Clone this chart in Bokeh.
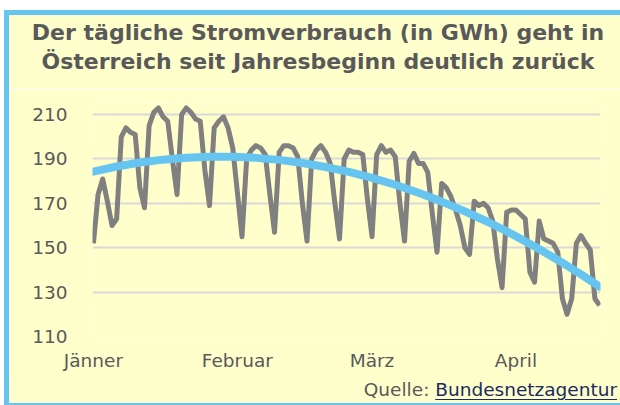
from bokeh.plotting import figure
from bokeh.models import Range1d, FixedTicker, Div
from bokeh.layouts import column, row
from bokeh.embed import file_html
from bokeh.resources import INLINE

# ---- data -------------------------------------------------------------
title_lines = ["Der tägliche Stromverbrauch (in GWh) geht in",
               "Österreich seit Jahresbeginn deutlich zurück"]
month_ticks = [0, 31, 60, 91]
month_labels = ["Jänner", "Februar", "März", "April"]
y_ticks = [110, 130, 150, 170, 190, 210]
consumption = [
    152, 174, 181, 171, 160, 163, 200, 204, 202, 201,
    177, 168, 205, 211, 213, 209, 207, 190, 174, 210,
    213, 211, 208, 207, 185, 169, 204, 207, 209, 204,
    195, 175, 155, 190, 194, 196, 195, 192, 174, 157,
    193, 196, 196, 195, 191, 170, 153, 190, 194, 196,
    193, 188, 170, 154, 190, 194, 193, 193, 192, 172,
    155, 192, 196, 193, 194, 191, 170, 153, 189, 192.5,
    188, 188, 184, 165, 148, 179, 177, 173, 167, 160,
    150, 147, 171, 169, 170, 168, 162, 145, 132, 166,
    167, 167, 165, 163, 139, 134.5, 162, 154, 153, 152,
    148, 127, 120, 127, 152, 155.5, 152, 149, 127, 124,
]
# trend line values, every 5 days
trend_days = [0, 5, 10, 15, 20, 25, 30, 35, 40, 45, 50, 55,
              60, 65, 70, 75, 80, 85, 90, 95, 100, 105, 109]
trend_values = [184.3, 186.6, 188.4, 189.7, 190.6, 191.0, 191.0, 190.5,
                189.6, 188.2, 186.4, 184.2, 181.5, 178.4, 174.8, 170.8,
                166.4, 161.6, 156.3, 150.6, 144.5, 138.0, 132.5]
source_prefix = "Quelle: "
source_name = "Bundesnetzagentur"

days = list(range(len(consumption)))

# ---- styling ----------------------------------------------------------
YELLOW = "#FFFFCC"
BLUE = "#66C5F0"
GRAY_TXT = "#595959"
NAVY = "#1B2A63"
FONT = "DejaVu Sans"
W = 611

p = figure(width=W, height=287, output_backend="svg", toolbar_location=None,
           x_range=Range1d(-0.2, 109.2), y_range=Range1d(110, 215),
           min_border_left=83, min_border_right=20,
           min_border_top=15, min_border_bottom=39, margin=0)
p.background_fill_color = YELLOW
p.border_fill_color = YELLOW
p.outline_line_color = None

p.xgrid.grid_line_color = None
p.ygrid.grid_line_color = "#D9D9D9"
p.ygrid.grid_line_width = 2

p.yaxis.ticker = FixedTicker(ticks=y_ticks)
p.xaxis.ticker = FixedTicker(ticks=month_ticks)
p.xaxis.major_label_overrides = dict(zip(month_ticks, month_labels))
for ax in (p.xaxis, p.yaxis):
    ax.axis_line_color = None
    ax.major_tick_line_color = None
    ax.minor_tick_line_color = None
    ax.major_tick_in = 0
    ax.major_tick_out = 0
    ax.major_label_text_font = FONT
    ax.major_label_text_font_size = "18.5px"
    ax.major_label_text_color = GRAY_TXT
p.yaxis.major_label_standoff = 25
p.xaxis.major_label_standoff = 13

p.line(days, consumption, line_color="#808080", line_width=5, line_join="round")
p.line(trend_days, trend_values, line_color=BLUE, line_width=8,
       line_cap="round", line_join="round")

title_div = Div(
    text="<br>".join(title_lines), width=W, height=73, margin=0,
    styles={"background-color": YELLOW, "font-family": FONT, "font-weight": "bold",
            "font-size": "22px", "line-height": "29px", "color": GRAY_TXT,
            "text-align": "center", "padding-top": "3px", "padding-left": "7px",
            "box-sizing": "border-box", "white-space": "nowrap"})

src_div = Div(
    text=(f'<span style="color:{GRAY_TXT}">{source_prefix}</span>'
          f'<span style="color:{NAVY};text-decoration:underline;'
          f'text-underline-offset:3px">{source_name}</span>'),
    width=W, height=28, margin=0,
    styles={"background-color": YELLOW, "font-family": FONT, "font-size": "18.5px",
            "line-height": "26px", "text-align": "right", "padding-right": "3px",
            "padding-top": "2px", "box-sizing": "border-box",
            "white-space": "nowrap"})

top_bar = Div(width=W, height=5, margin=0, styles={"background-color": BLUE})
bottom_bar = Div(width=W, height=2, margin=0, styles={"background-color": BLUE})
left_bar = Div(width=5, height=395, margin=0, styles={"background-color": BLUE})

inner = column(top_bar, title_div, p, src_div, bottom_bar, spacing=0, margin=0)
layout = row(left_bar, inner, spacing=0, margin=(10, 0, 0, 4))

open("out.html", "w").write(file_html(layout, INLINE))
